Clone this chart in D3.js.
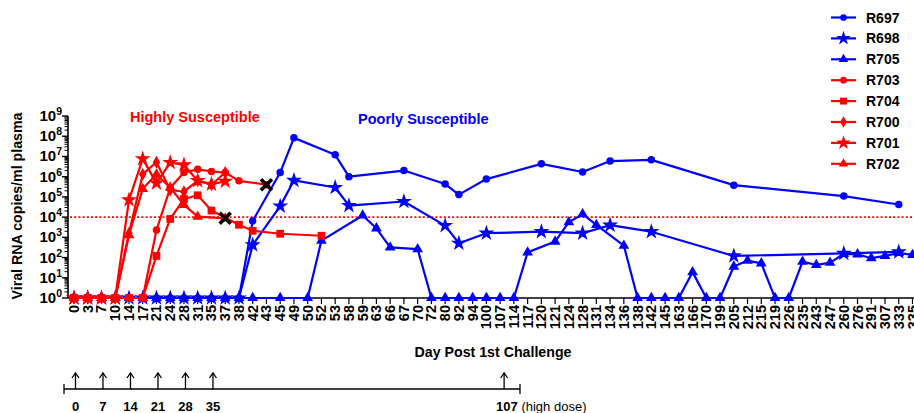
<!DOCTYPE html>
<html><head><meta charset="utf-8">
<script src="https://cdn.jsdelivr.net/npm/d3@7"></script>
<style>body{margin:0;background:#fff}svg{display:block;font-family:"Liberation Sans",Arial,sans-serif}</style>
</head><body><svg id="c" width="914" height="413"></svg>
<script>
// ---------- data ----------
const dayLabels = [0,3,7,10,14,17,21,24,28,31,35,37,38,42,43,45,49,50,52,53,58,59,63,66,67,70,72,80,92,94,100,107,114,117,120,121,124,128,131,134,136,138,142,145,163,166,170,199,205,212,215,219,226,235,243,247,260,276,291,307,333,335];
const yTickExps = [0,1,2,3,4,5,6,7,8,9];
const thresholdValue = 1e4;
const doseDays = [0,7,14,21,28,35,107];

const r697Days = [0,3,7,10,14,17,21,24,28,31,35,37,38,42,45,49,53,58,67,80,92,100,120,128,134,142,205,260,333];
const r697Vals = [1,1,1,1,1,1,1,1,1,1,1,1,1,6.5e3,1.6e6,8.3e7,1.2e7,1.0e6,2.0e6,4.3e5,1.3e5,7.6e5,4.3e6,1.7e6,5.9e6,6.8e6,3.8e5,1.1e5,4.2e4];
const r698Days = r697Days;
const r698Vals = [1,1,1,1,1,1,1,1,1,1,1,1,1,420,3.5e4,6.5e5,2.9e5,3.7e4,5.9e4,3.8e3,510,1.6e3,1.9e3,1.6e3,4.0e3,1.9e3,120,160,190];
const r705Days = [0,3,7,10,14,17,21,24,28,31,35,37,38,42,45,50,52,59,63,66,70,72,80,92,94,100,107,114,117,121,124,128,131,136,138,142,145,163,166,170,199,205,212,215,219,226,235,243,247,260,276,291,307,333,335];
const r705Vals = [1,1,1,1,1,1,1,1,1,1,1,1,1,1,1,1,690,1.2e4,2.8e3,320,260,1,1,1,1,1,1,1,180,620,5.6e3,1.4e4,4.1e3,390,1,1,1,1,19,1,1,36,71,52,1,1,63,43,56,150,145,93,120,170,135];
const r703Days = [0,3,7,10,14,17,21,24,28,31,35,37,38,43];
const r703Vals = [1,1,1,1,1,1,2.3e3,2.8e5,1.6e6,2.3e6,1.8e6,1.6e6,6.2e5,4.0e5];
const r704Days = [0,3,7,10,14,17,21,24,28,31,35,38,42,45,52];
const r704Vals = [1,1,1,1,1,1,120,8.1e3,7.9e4,1.2e5,2.1e4,4.2e3,2.1e3,1.5e3,1.2e3];
const r700Days = [0,3,7,10,14,17,21,24,28,31,35,37];
const r700Vals = [1,1,1,1,1.6e3,1.3e6,5.2e6,2.2e5,1.8e5,6.3e5,4.0e5,1.6e6];
const r701Days = [0,3,7,10,14,17,21,24,28,31,35,37];
const r701Vals = [1,1,1,1,7.1e4,7.6e6,4.8e5,5.0e6,3.8e6,6.3e5,4.2e5,5.9e5];
const r702Days = [0,3,7,10,14,17,21,24,28,31,37];
const r702Vals = [1,1,1,1,1.3e3,2.5e5,1.3e6,2.9e5,4.0e4,1.05e4,8.7e3];

const seriesNames = ["R697","R698","R705","R703","R704","R700","R701","R702"];
const seriesColors = ["#0000ff","#0000ff","#0000ff","#ff0000","#ff0000","#ff0000","#ff0000","#ff0000"];
const deathSeries = ["R702","R703"];
const groupLabels = ["Highly Susceptible","Poorly Susceptible"];

// ---------- build ----------
const symbolMap = {R697:d3.symbolCircle,R698:d3.symbolStar,R705:d3.symbolTriangle,R703:d3.symbolCircle,R704:d3.symbolSquare,R700:d3.symbolDiamond,R701:d3.symbolStar,R702:d3.symbolTriangle};
const sizeMap = {R697:44,R698:80,R705:50,R703:44,R704:60,R700:48,R701:80,R702:50};
const dataMap = {
  R697:[r697Days,r697Vals],R698:[r698Days,r698Vals],R705:[r705Days,r705Vals],
  R703:[r703Days,r703Vals],R704:[r704Days,r704Vals],R700:[r700Days,r700Vals],
  R701:[r701Days,r701Vals],R702:[r702Days,r702Vals]
};
const series = seriesNames.map((n,i)=>({name:n,color:seriesColors[i],
  pts:dataMap[n][0].map((d,j)=>({day:d,v:dataMap[n][1][j]}))}));

const svg = d3.select("#c");
const x = d3.scalePoint().domain(dayLabels).range([74,912.5]);
const y = d3.scaleLog().domain([1,1e9]).range([298,116]);
const x0 = 68;

// threshold
svg.append("line").attr("x1",70).attr("x2",914).attr("y1",y(thresholdValue)).attr("y2",y(thresholdValue))
  .attr("stroke","#ff0000").attr("stroke-width",1.8).attr("stroke-dasharray","2,2.2");

// y axis
const ya = svg.append("g");
ya.append("line").attr("x1",x0).attr("x2",x0).attr("y1",y(1e9)).attr("y2",y(1)).attr("stroke","#000").attr("stroke-width",1.6);
yTickExps.forEach(e=>{
  const v = Math.pow(10,e);
  ya.append("line").attr("x1",x0-6).attr("x2",x0).attr("y1",y(v)).attr("y2",y(v)).attr("stroke","#000").attr("stroke-width",1.4);
  if(e<9){for(let k=2;k<10;k++){ya.append("line").attr("x1",x0-3.5).attr("x2",x0).attr("y1",y(v*k)).attr("y2",y(v*k)).attr("stroke","#000").attr("stroke-width",1);}}
  const t = ya.append("text").attr("x",62).attr("y",y(v)+5).attr("text-anchor","end").attr("font-weight","bold").attr("font-size",15);
  t.append("tspan").text("10");
  t.append("tspan").attr("dy",-6).attr("font-size",10.5).text(e);
});
svg.append("text").attr("transform","translate(22,206) rotate(-90)").attr("text-anchor","middle")
  .attr("font-weight","bold").attr("font-size",14.2).text("Viral RNA copies/ml plasma");

// x axis
const xa = svg.append("g");
xa.append("line").attr("x1",x0).attr("x2",914).attr("y1",298).attr("y2",298).attr("stroke","#000").attr("stroke-width",1.6);
dayLabels.forEach(d=>{
  xa.append("line").attr("x1",x(d)).attr("x2",x(d)).attr("y1",298).attr("y2",304).attr("stroke","#000").attr("stroke-width",1.2);
  xa.append("text").attr("transform",`translate(${x(d)+5},305) rotate(-90)`).attr("text-anchor","end")
    .attr("font-weight","bold").attr("font-size",14.5).text(d);
});
svg.append("text").attr("x",493).attr("y",357).attr("text-anchor","middle").attr("font-weight","bold").attr("font-size",14.2).text("Day Post 1st Challenge");

// group labels
svg.append("text").attr("x",130).attr("y",122).attr("fill","#ff0000").attr("font-weight","bold").attr("font-size",14.5).text(groupLabels[0]);
svg.append("text").attr("x",358).attr("y",124).attr("fill","#0000ff").attr("font-weight","bold").attr("font-size",14.5).text(groupLabels[1]);

// series
const line = d3.line().x(p=>x(p.day)).y(p=>y(p.v));
series.forEach(s=>{
  const g = svg.append("g");
  g.append("path").attr("d",line(s.pts)).attr("fill","none").attr("stroke",s.color).attr("stroke-width",2.2).attr("stroke-linejoin","round");
  const sym = d3.symbol().type(symbolMap[s.name]).size(sizeMap[s.name]);
  g.selectAll("path.m").data(s.pts).join("path").attr("class","m")
    .attr("transform",p=>`translate(${x(p.day)},${y(p.v)})`).attr("d",sym()).attr("fill",s.color);
});
// R704 on top at baseline
{
  const s = series.find(d=>d.name==="R704");
  const sym = d3.symbol().type(d3.symbolSquare).size(60);
  svg.append("g").selectAll("path").data(s.pts.filter(p=>p.v===1)).join("path")
    .attr("transform",p=>`translate(${x(p.day)},${y(p.v)})`).attr("d",sym()).attr("fill",s.color);
}
// death markers
deathSeries.forEach(n=>{
  const s = series.find(d=>d.name===n); const p = s.pts[s.pts.length-1];
  const cx=x(p.day), cy=y(p.v), r=5.5;
  svg.append("path").attr("d",`M${cx-r},${cy-r}L${cx+r},${cy+r}M${cx-r},${cy+r}L${cx+r},${cy-r}`)
    .attr("stroke","#000").attr("stroke-width",3.6);
});

// legend
series.forEach((s,i)=>{
  const ly = 17.5 + i*20.9;
  svg.append("line").attr("x1",831).attr("x2",856).attr("y1",ly).attr("y2",ly).attr("stroke",s.color).attr("stroke-width",2.2);
  svg.append("path").attr("transform",`translate(843.5,${ly})`).attr("d",d3.symbol().type(symbolMap[s.name]).size(sizeMap[s.name]*0.8)()).attr("fill",s.color);
  svg.append("text").attr("x",866).attr("y",ly+5).attr("font-weight","bold").attr("font-size",14).text(s.name);
});

// dose timeline
const tl = svg.append("g");
tl.append("line").attr("x1",64).attr("x2",520).attr("y1",389).attr("y2",389).attr("stroke","#000").attr("stroke-width",1.3);
[64,520].forEach(xx=>tl.append("line").attr("x1",xx).attr("x2",xx).attr("y1",384).attr("y2",394).attr("stroke","#000").attr("stroke-width",1.3));
doseDays.forEach(d=>{
  const xx = d===107 ? x(d)+4 : x(d)+1.5;
  tl.append("line").attr("x1",xx).attr("x2",xx).attr("y1",373).attr("y2",389).attr("stroke","#000").attr("stroke-width",1.3);
  tl.append("path").attr("d",`M${xx-3.5},${378}L${xx},${373}L${xx+3.5},${378}`).attr("fill","none").attr("stroke","#000").attr("stroke-width",1.3);
  const t = tl.append("text").attr("x",xx).attr("y",411).attr("font-size",13).attr("text-anchor",d===107?"start":"middle");
  if(d===107){t.attr("x",xx-8); t.append("tspan").attr("font-weight","bold").text("107"); t.append("tspan").text(" (high dose)");}
  else t.attr("font-weight","bold").text(d);
});
</script></body></html>
